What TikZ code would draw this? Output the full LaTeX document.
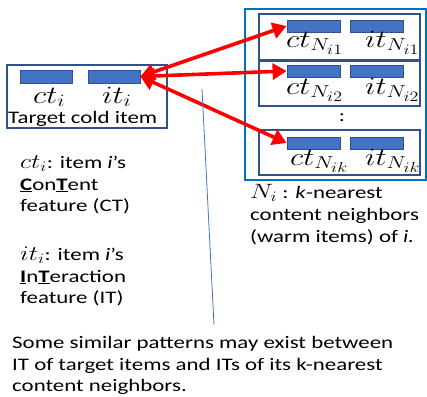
\documentclass[tikz,border=0pt]{standalone}
\usepackage{fontspec}
\usepackage{graphicx}
\setmainfont{Carlito}[FakeStretch=1.3]
\usetikzlibrary{arrows.meta}
\definecolor{barblue}{HTML}{4472C4}
\definecolor{barline}{HTML}{2F528F}
\definecolor{outerblue}{HTML}{0070C0}
\DeclareMathSizes{23}{23}{17.5}{14}
\DeclareMathSizes{20}{20}{15}{12}
\newcommand{\bmth}[1]{\scalebox{1.25}[1]{$#1$}}
\begin{document}
\begin{tikzpicture}[x=1pt,y=-1pt,
  bar/.style={draw=barline, fill=barblue, line width=0.8pt, minimum width=52pt, minimum height=12pt, inner sep=0pt},
  ibox/.style={draw=barline, line width=1.1pt, inner sep=0pt},
  obox/.style={draw=outerblue, line width=2.6pt, inner sep=0pt},
  redarrow/.style={draw=red, line width=3.6pt, {Triangle[length=14pt,width=16pt]}-{Triangle[length=14pt,width=16pt]}},
  txt/.style={font=\fontsize{17.6}{21.5}\selectfont, anchor=base west, inner sep=0pt},
  mlbl/.style={font=\fontsize{23}{25}\selectfont, anchor=base west, inner sep=0pt},
  thinline/.style={draw=barblue, line width=0.8pt}
]
\useasboundingbox (0,0) rectangle (427,396);
% target cold item
\node[ibox, minimum width=160pt, minimum height=63pt] (tbox) at (87,96.5) {};
\node[bar, minimum height=13pt] (tct) at (46,76.5) {};
\node[bar, minimum height=13pt] (tit) at (114,76.5) {};
\node[mlbl] (tctl) at (33,103) {\bmth{ct_i}};
\node[mlbl] (titl) at (102,103) {\bmth{it_i}};
\node[txt] (tlab) at (8,123) {Target cold item};
% neighbours
\node[obox, minimum width=181pt, minimum height=171pt] (obx) at (335.5,94.5) {};
\node[ibox, minimum width=161pt, minimum height=46pt] (b1) at (339.5,37) {};
\node[ibox, minimum width=161pt, minimum height=45pt] (b2) at (339.5,83.5) {};
\node[ibox, minimum width=161pt, minimum height=45pt] (b3) at (339.5,152.5) {};
\node[bar, minimum width=53pt] (n1ct) at (313.5,26) {};
\node[bar, minimum width=53pt] (n1it) at (377,26) {};
\node[bar, minimum width=53pt] (n2ct) at (313.5,71) {};
\node[bar, minimum width=53pt] (n2it) at (377,71) {};
\node[bar, minimum width=53pt] (n3ct) at (313.5,143) {};
\node[bar, minimum width=53pt] (n3it) at (377,143) {};
\node[mlbl] (l1c) at (286,47) {\bmth{ct_{N_{i1}}}};
\node[mlbl] (l1i) at (365,47) {\bmth{it_{N_{i1}}}};
\node[mlbl] (l2c) at (286,94) {\bmth{ct_{N_{i2}}}};
\node[mlbl] (l2i) at (365,94) {\bmth{it_{N_{i2}}}};
\node[mlbl] (l3c) at (290,165) {\bmth{ct_{N_{ik}}}};
\node[mlbl] (l3i) at (365,165) {\bmth{it_{N_{ik}}}};
\node[txt, anchor=center] (dots) at (342,118) {:};
% arrows
\draw[redarrow] (tit.east) -- (n1ct.west);
\draw[redarrow] (tit.east) -- (n2ct.west);
\draw[redarrow] (tit.east) -- (n3ct.west);
% thin line
\coordinate (la) at (202,89);
\coordinate (lb) at (214,325);
\draw[thinline] (la) -- (lb);
% left explanations
\node[txt] (e1) at (20,168) {{\fontsize{20}{22}\selectfont\bmth{ct_i}}: item \textit{i}’s};
\node[txt] (e2) at (20,190) {\underline{\textbf{C}}on\underline{\textbf{T}}ent};
\node[txt] (e3) at (20,211) {feature (CT)};
\node[txt] (e4) at (20,260) {{\fontsize{20}{22}\selectfont\bmth{it_i}}: item \textit{i}’s};
\node[txt] (e5) at (20,282) {\underline{\textbf{I}}n\underline{\textbf{T}}eraction};
\node[txt] (e6) at (20,303) {feature (IT)};
% right explanation
\node[txt] (r1) at (250,198) {{\fontsize{20}{22}\selectfont\bmth{N_i}} : \textit{k}-nearest};
\node[txt] (r2) at (250,220) {content neighbors};
\node[txt] (r3) at (250,242) {(warm items) of \textit{i.}};
% bottom text
\node[txt] (s1) at (12,348) {Some similar patterns may exist between};
\node[txt] (s2) at (12,370) {IT of target items and ITs of its k-nearest};
\node[txt] (s3) at (12,391) {content neighbors.};
\end{tikzpicture}
\end{document}
